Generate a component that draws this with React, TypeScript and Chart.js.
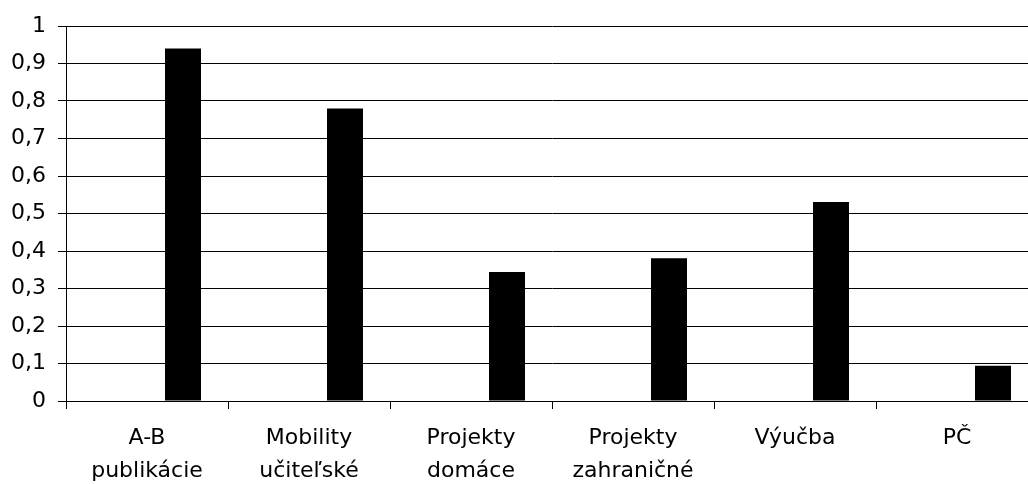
import React, { useEffect, useRef } from "react";
import { Chart, registerables } from "chart.js";

Chart.register(...registerables);

const categories: string[][] = [
  ["A-B", "publikácie"],
  ["Mobility", "učiteľské"],
  ["Projekty", "domáce"],
  ["Projekty", "zahraničné"],
  ["Výučba"],
  ["PČ"],
];
const series1: (number | null)[] = [null, null, null, null, null, null];
const series2: (number | null)[] = [null, null, null, null, null, null];
const series3: number[] = [0.94, 0.78, 0.344, 0.381, 0.531, 0.094];
const yTickMin = 0;
const yTickMax = 1;
const yTickStep = 0.1;

const FONT = "'DejaVu Sans', 'Liberation Sans', Arial, sans-serif";

export default function App() {
  const ref = useRef<HTMLCanvasElement | null>(null);
  useEffect(() => {
    if (!ref.current) return;
    const chart = new Chart(ref.current, {
      type: "bar",
      data: {
        labels: categories,
        datasets: [
          { label: "Rad1", data: series1, backgroundColor: "#000000" },
          { label: "Rad2", data: series2, backgroundColor: "#000000" },
          {
            label: "Rad3",
            data: series3,
            backgroundColor: "#000000",
            borderWidth: 0,
          },
        ],
      },
      options: {
        responsive: false,
        animation: false,
        devicePixelRatio: 1,
        categoryPercentage: 108 / 162,
        barPercentage: 1,
        layout: { padding: { top: 26, right: 0, left: 0, bottom: 0 } },
        plugins: {
          legend: { display: false },
          tooltip: { enabled: false },
          title: { display: false },
        },
        scales: {
          x: {
            offset: true,
            grid: {
              offset: true,
              drawOnChartArea: false,
              drawTicks: true,
              tickLength: 8,
              color: "#000000",
              lineWidth: 1,
            },
            border: { display: true, color: "#000000", width: 1 },
            ticks: {
              color: "#000000",
              font: { family: FONT, size: 22, lineHeight: 1.5 },
              padding: 13,
              maxRotation: 0,
              autoSkip: false,
            },
            afterFit: (s: any) => {
              s.height = 83;
            },
          },
          y: {
            min: yTickMin,
            max: yTickMax,
            grid: {
              color: "#000000",
              lineWidth: 1,
              drawTicks: true,
              tickLength: 8,
            },
            border: { display: true, color: "#000000", width: 1 },
            ticks: {
              stepSize: yTickStep,
              color: "#000000",
              font: { family: FONT, size: 22 },
              padding: 12,
              callback: (v: any) =>
                String(Math.round(Number(v) * 10) / 10).replace(".", ","),
            },
            afterFit: (s: any) => {
              s.width = 66;
            },
          },
        },
      },
    });
    return () => chart.destroy();
  }, []);
  return (
    <div
      style={{
        position: "fixed",
        left: 0,
        top: 0,
        width: 1028,
        height: 484,
        overflow: "hidden",
        background: "#ffffff",
      }}
    >
      <canvas ref={ref} width={1038} height={484} style={{ display: "block" }} />
    </div>
  );
}
